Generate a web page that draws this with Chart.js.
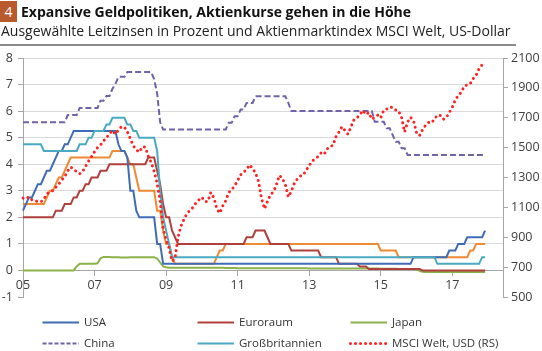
<!DOCTYPE html>
<html><head><meta charset="utf-8">
<script src="https://cdn.jsdelivr.net/npm/chart.js@4/dist/chart.umd.min.js"></script>
<style>
html,body{margin:0;padding:0;background:#fff;}
#wrap{position:relative;width:542px;height:351px;overflow:hidden;font-family:'Open Sans',sans-serif;color:#222;}
#title{position:absolute;left:0;top:1px;white-space:nowrap;height:22px;}
#num{position:absolute;left:0;top:0;width:17px;height:21px;background:#b85a2c;color:#fff;font-size:14px;line-height:21px;text-align:center;}
#ttext{position:absolute;left:21px;top:0;font-weight:bold;font-size:14px;line-height:21px;color:#111;}
#sub{position:absolute;left:1px;top:22px;font-size:14px;line-height:18px;white-space:nowrap;color:#222;}
#rule{position:absolute;left:0;top:44px;width:516px;height:2px;background:#8c8c8c;}
canvas{position:absolute;left:0;top:0;}
.lg{position:absolute;height:16px;white-space:nowrap;font-size:11.5px;line-height:16px;color:#333;}
.lg svg{position:absolute;left:0;top:0;}
.lg span{position:absolute;left:43px;top:0;}
</style></head>
<body><div id="wrap">
<canvas id="c" width="542" height="351"></canvas>
<div id="title"><div id="num">4</div><div id="ttext">Expansive Geldpolitiken, Aktienkurse gehen in die Höhe</div></div>
<div id="sub">Ausgewählte Leitzinsen in Prozent und Aktienmarktindex MSCI Welt, US-Dollar</div>
<div id="rule"></div>
<div id="legend"></div>
</div>
<script>
// Monthly categories Jan 2005 .. Jun 2018 (axis runs a little past the data)
const months = [];
for (let y = 2005; y <= 2018; y++) for (let m = 1; m <= 12; m++) { if (y === 2018 && m > 6) break; months.push(y + '-' + String(m).padStart(2, '0')); }

const seriesNames = ['USA', 'Euroraum', 'Japan', 'China', 'Großbritannien', 'MSCI Welt, USD (RS)'];
const leftTicks = [-1, 0, 1, 2, 3, 4, 5, 6, 7, 8];
const rightTicks = [500, 700, 900, 1100, 1300, 1500, 1700, 1900, 2100];

const usa = [
 2.25,2.5,2.75,2.75,3.0,3.25,3.25,3.5,3.75,3.75,4.0,4.25,
 4.5,4.5,4.75,4.75,5.0,5.25,5.25,5.25,5.25,5.25,5.25,5.25,
 5.25,5.25,5.25,5.25,5.25,5.25,5.25,5.25,4.75,4.5,4.5,4.25,
 3.0,3.0,2.25,2.0,2.0,2.0,2.0,2.0,2.0,1.0,1.0,0.25,
 0.25,0.25,0.25,0.25,0.25,0.25,0.25,0.25,0.25,0.25,0.25,0.25,
 0.25,0.25,0.25,0.25,0.25,0.25,0.25,0.25,0.25,0.25,0.25,0.25,
 0.25,0.25,0.25,0.25,0.25,0.25,0.25,0.25,0.25,0.25,0.25,0.25,
 0.25,0.25,0.25,0.25,0.25,0.25,0.25,0.25,0.25,0.25,0.25,0.25,
 0.25,0.25,0.25,0.25,0.25,0.25,0.25,0.25,0.25,0.25,0.25,0.25,
 0.25,0.25,0.25,0.25,0.25,0.25,0.25,0.25,0.25,0.25,0.25,0.25,
 0.25,0.25,0.25,0.25,0.25,0.25,0.25,0.25,0.25,0.25,0.25,0.5,
 0.5,0.5,0.5,0.5,0.5,0.5,0.5,0.5,0.5,0.5,0.5,0.75,
 0.75,0.75,1.0,1.0,1.0,1.25,1.25,1.25,1.25,1.25,1.25,1.5];

const euroraum = [
 2,2,2,2,2,2,2,2,2,2,2,2.25,
 2.25,2.25,2.5,2.5,2.5,2.75,2.75,3,3,3.25,3.25,3.5,
 3.5,3.5,3.75,3.75,3.75,4,4,4,4,4,4,4,
 4,4,4,4,4,4,4.25,4.25,4.25,3.75,3.25,2.5,
 2,2,1.5,1.25,1,1,1,1,1,1,1,1,
 1,1,1,1,1,1,1,1,1,1,1,1,
 1,1,1,1.25,1.25,1.25,1.5,1.5,1.5,1.5,1.25,1,
 1,1,1,1,1,1,0.75,0.75,0.75,0.75,0.75,0.75,
 0.75,0.75,0.75,0.75,0.5,0.5,0.5,0.5,0.5,0.5,0.25,0.25,
 0.25,0.25,0.25,0.25,0.25,0.15,0.15,0.15,0.05,0.05,0.05,0.05,
 0.05,0.05,0.05,0.05,0.05,0.05,0.05,0.05,0.05,0.05,0.05,0.05,
 0.05,0.05,0,0,0,0,0,0,0,0,0,0,
 0,0,0,0,0,0,0,0,0,0,0,0];

const japan = [
 0,0,0,0,0,0,0,0,0,0,0,0,
 0,0,0,0,0,0,0.15,0.25,0.25,0.25,0.25,0.25,
 0.25,0.27,0.46,0.51,0.51,0.51,0.5,0.5,0.5,0.49,0.49,0.49,
 0.5,0.5,0.5,0.5,0.5,0.5,0.5,0.5,0.5,0.45,0.3,0.15,
 0.12,0.1,0.1,0.1,0.1,0.1,0.1,0.1,0.1,0.1,0.1,0.1,
 0.1,0.1,0.1,0.1,0.1,0.1,0.1,0.1,0.09,0.09,0.09,0.09,
 0.08,0.08,0.08,0.08,0.08,0.08,0.08,0.08,0.08,0.08,0.08,0.08,
 0.08,0.08,0.08,0.08,0.08,0.08,0.08,0.08,0.08,0.08,0.08,0.08,
 0.07,0.07,0.07,0.07,0.07,0.07,0.07,0.07,0.07,0.07,0.07,0.07,
 0.07,0.07,0.07,0.07,0.07,0.07,0.07,0.07,0.07,0.07,0.07,0.07,
 0.06,0.06,0.06,0.06,0.06,0.06,0.05,0.05,0.05,0.05,0.05,0.05,
 0.04,-0.01,-0.05,-0.06,-0.06,-0.06,-0.06,-0.06,-0.06,-0.06,-0.06,-0.06,
 -0.06,-0.06,-0.06,-0.06,-0.06,-0.06,-0.06,-0.06,-0.06,-0.06,-0.06,-0.06];

const china = [
 5.58,5.58,5.58,5.58,5.58,5.58,5.58,5.58,5.58,5.58,5.58,5.58,
 5.58,5.58,5.58,5.85,5.85,5.85,5.85,6.12,6.12,6.12,6.12,6.12,
 6.12,6.12,6.39,6.39,6.57,6.57,6.84,7.02,7.29,7.29,7.29,7.47,
 7.47,7.47,7.47,7.47,7.47,7.47,7.47,7.47,7.20,6.66,5.58,5.31,
 5.31,5.31,5.31,5.31,5.31,5.31,5.31,5.31,5.31,5.31,5.31,5.31,
 5.31,5.31,5.31,5.31,5.31,5.31,5.31,5.31,5.31,5.56,5.56,5.81,
 5.81,6.06,6.06,6.31,6.31,6.31,6.56,6.56,6.56,6.56,6.56,6.56,
 6.56,6.56,6.56,6.56,6.56,6.31,6.0,6.0,6.0,6.0,6.0,6.0,
 6.0,6.0,6.0,6.0,6.0,6.0,6.0,6.0,6.0,6.0,6.0,6.0,
 6.0,6.0,6.0,6.0,6.0,6.0,6.0,6.0,6.0,6.0,5.6,5.6,
 5.6,5.6,5.35,5.35,5.1,4.85,4.85,4.6,4.6,4.35,4.35,4.35,
 4.35,4.35,4.35,4.35,4.35,4.35,4.35,4.35,4.35,4.35,4.35,4.35,
 4.35,4.35,4.35,4.35,4.35,4.35,4.35,4.35,4.35,4.35,4.35,4.35];

const grossbritannien = [
 4.75,4.75,4.75,4.75,4.75,4.75,4.75,4.5,4.5,4.5,4.5,4.5,
 4.5,4.5,4.5,4.5,4.5,4.5,4.5,4.75,4.75,4.75,5.0,5.0,
 5.25,5.25,5.25,5.25,5.5,5.5,5.75,5.75,5.75,5.75,5.75,5.5,
 5.5,5.25,5.25,5.0,5.0,5.0,5.0,5.0,5.0,4.5,3.0,2.0,
 1.5,1.0,0.5,0.5,0.5,0.5,0.5,0.5,0.5,0.5,0.5,0.5,
 0.5,0.5,0.5,0.5,0.5,0.5,0.5,0.5,0.5,0.5,0.5,0.5,
 0.5,0.5,0.5,0.5,0.5,0.5,0.5,0.5,0.5,0.5,0.5,0.5,
 0.5,0.5,0.5,0.5,0.5,0.5,0.5,0.5,0.5,0.5,0.5,0.5,
 0.5,0.5,0.5,0.5,0.5,0.5,0.5,0.5,0.5,0.5,0.5,0.5,
 0.5,0.5,0.5,0.5,0.5,0.5,0.5,0.5,0.5,0.5,0.5,0.5,
 0.5,0.5,0.5,0.5,0.5,0.5,0.5,0.5,0.5,0.5,0.5,0.5,
 0.5,0.5,0.5,0.5,0.5,0.5,0.5,0.25,0.25,0.25,0.25,0.25,
 0.25,0.25,0.25,0.25,0.25,0.25,0.25,0.25,0.25,0.25,0.5,0.5];

// orange line drawn in the reference without a legend entry
const kanada = [
 2.5,2.5,2.5,2.5,2.5,2.5,2.5,2.5,2.75,3.0,3.0,3.25,
 3.5,3.5,3.75,4.0,4.25,4.25,4.25,4.25,4.25,4.25,4.25,4.25,
 4.25,4.25,4.25,4.25,4.25,4.25,4.5,4.5,4.5,4.5,4.5,4.25,
 4.0,4.0,3.5,3.0,3.0,3.0,3.0,3.0,3.0,2.25,2.25,1.5,
 1.0,1.0,0.5,0.25,0.25,0.25,0.25,0.25,0.25,0.25,0.25,0.25,
 0.25,0.25,0.25,0.25,0.25,0.5,0.75,0.75,1.0,1.0,1.0,1.0,
 1.0,1.0,1.0,1.0,1.0,1.0,1.0,1.0,1.0,1.0,1.0,1.0,
 1.0,1.0,1.0,1.0,1.0,1.0,1.0,1.0,1.0,1.0,1.0,1.0,
 1.0,1.0,1.0,1.0,1.0,1.0,1.0,1.0,1.0,1.0,1.0,1.0,
 1.0,1.0,1.0,1.0,1.0,1.0,1.0,1.0,1.0,1.0,1.0,1.0,
 0.75,0.75,0.75,0.75,0.75,0.75,0.5,0.5,0.5,0.5,0.5,0.5,
 0.5,0.5,0.5,0.5,0.5,0.5,0.5,0.5,0.5,0.5,0.5,0.5,
 0.5,0.5,0.5,0.5,0.5,0.5,0.75,0.75,1.0,1.0,1.0,1.0];

const msciWelt = [
 1162,1158,1170,1150,1142,1140,1137,1155,1190,1205,1212,1235,
 1255,1283,1307,1345,1370,1355,1338,1325,1340,1375,1410,1440,
 1472,1500,1518,1545,1565,1595,1614,1590,1618,1640,1638,1605,
 1560,1512,1485,1470,1505,1503,1445,1400,1340,1260,1140,960,
 880,827,740,760,900,975,1020,1060,1080,1100,1129,1150,
 1168,1140,1140,1200,1165,1090,1062,1110,1144,1200,1218,1245,
 1280,1318,1336,1352,1385,1360,1330,1275,1160,1090,1140,1184,
 1205,1250,1314,1295,1252,1170,1207,1262,1290,1310,1316,1350,
 1380,1410,1425,1441,1465,1455,1490,1508,1515,1575,1605,1640,
 1615,1590,1640,1686,1700,1720,1749,1722,1735,1690,1705,1718,
 1700,1750,1758,1772,1768,1752,1745,1700,1605,1670,1703,1680,
 1600,1580,1620,1648,1668,1665,1690,1718,1715,1690,1702,1735,
 1770,1820,1848,1870,1912,1920,1928,1962,1985,2030,2055,2065];

const colors = {usa:'#3f6db5', euro:'#b0403c', japan:'#8cb24a', china:'#7262aa', gb:'#4aaac4', kanada:'#ee8a34', msci:'#ff2222'};

function line(label, data, color, order, extra) {
  return Object.assign({label, data, borderColor: color, backgroundColor: color, borderWidth: 2,
    pointRadius: 0, tension: 0, fill: false, yAxisID: 'y', order}, extra || {});
}

const datasets = [
  line(seriesNames[5], msciWelt, colors.msci, 0, {yAxisID: 'y1', borderWidth: 3, borderDash: [0.01, 5.2], borderCapStyle: 'round'}),
  line(seriesNames[0], usa, colors.usa, 2),
  line(seriesNames[1], euroraum, colors.euro, 3),
  line(seriesNames[2], japan, colors.japan, 4),
  line(seriesNames[3], china, colors.china, 5, {borderDash: [6, 3]}),
  line(seriesNames[4], grossbritannien, colors.gb, 1),
  line('Kanada', kanada, colors.kanada, 6)
];

Chart.defaults.font.family = "'Open Sans', sans-serif";
Chart.defaults.color = '#404040';

new Chart(document.getElementById('c'), {
  type: 'line',
  data: {labels: months, datasets},
  options: {
    responsive: false, animation: false, devicePixelRatio: 1,
    layout: {padding: {top: 58, bottom: 54, left: 0, right: 0}},
    plugins: {legend: {display: false}, tooltip: {enabled: false}},
    scales: {
      x: {
        type: 'category', position: {y: 0},
        grid: {drawOnChartArea: false, drawTicks: true, tickLength: 5, color: '#a6a6a6'},
        border: {display: true, color: '#a6a6a6', width: 1},
        ticks: {autoSkip: false, maxRotation: 0, padding: 2, font: {size: 12.5},
          callback: function (v) { return this.getLabelForValue(v).slice(2, 4); }},
        afterBuildTicks: s => { s.ticks = s.ticks.filter(t => { const l = months[t.value]; return l.endsWith('-01') && parseInt(l, 10) % 2 === 1; }); }
      },
      y: {
        min: leftTicks[0], max: leftTicks[leftTicks.length - 1],
        ticks: {stepSize: 1, padding: 5, font: {size: 12.5}},
        grid: {color: c => (c.tick && c.tick.value === -1) ? 'rgba(0,0,0,0)' : '#d9d9d9', tickColor: '#a6a6a6', tickLength: 5},
        border: {color: '#a6a6a6'},
        afterFit: s => { s.width = 23; }
      },
      y1: {
        position: 'right', min: rightTicks[0], max: rightTicks[rightTicks.length - 1],
        ticks: {stepSize: 200, padding: 3, font: {size: 12.5}, callback: v => String(v)},
        grid: {drawOnChartArea: false, tickColor: '#a6a6a6', tickLength: 5},
        border: {color: '#a6a6a6'},
        afterFit: s => { s.width = 39; }
      }
    }
  }
});

// HTML legend built from the series names/colours
const legendItems = [
  {name: seriesNames[0], color: colors.usa, dash: '', cap: 'butt', w: 2},
  {name: seriesNames[1], color: colors.euro, dash: '', cap: 'butt', w: 2},
  {name: seriesNames[2], color: colors.japan, dash: '', cap: 'butt', w: 2},
  {name: seriesNames[3], color: colors.china, dash: '4 2', cap: 'butt', w: 2},
  {name: seriesNames[4], color: colors.gb, dash: '', cap: 'butt', w: 2},
  {name: seriesNames[5], color: colors.msci, dash: '0.01 5', cap: 'round', w: 3}
];
const colX = [41, 196, 349], rowY = [314, 335];
const lg = document.getElementById('legend');
legendItems.forEach((it, i) => {
  const d = document.createElement('div');
  d.className = 'lg';
  d.style.left = colX[i % 3] + 'px';
  d.style.top = rowY[Math.floor(i / 3)] + 'px';
  d.innerHTML = '<svg width="40" height="16"><line x1="1.5" y1="8.5" x2="38" y2="8.5" stroke="' + it.color +
    '" stroke-width="' + it.w + '" stroke-linecap="' + it.cap + '"' + (it.dash ? ' stroke-dasharray="' + it.dash + '"' : '') + '/></svg><span></span>';
  d.querySelector('span').textContent = it.name;
  lg.appendChild(d);
});
</script>
</body></html>
